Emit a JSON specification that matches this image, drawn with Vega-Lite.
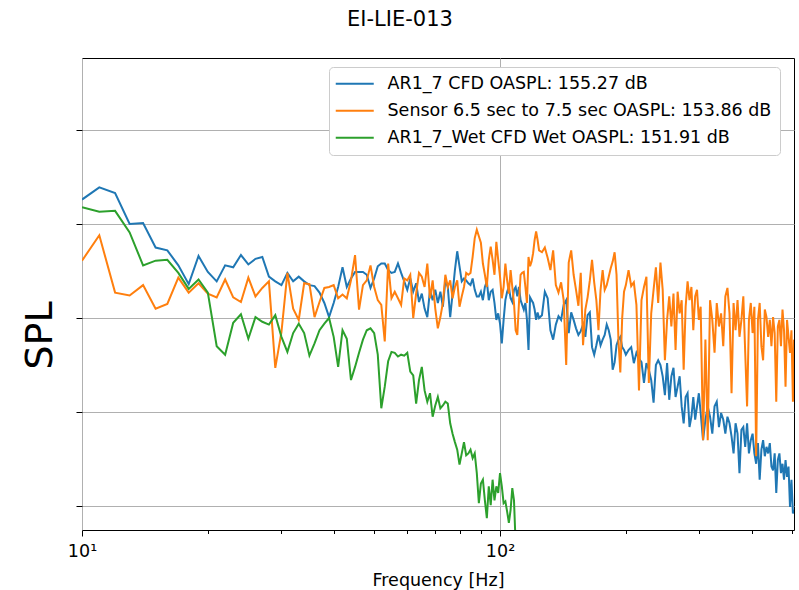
{
"$schema":"https://vega.github.io/schema/vega-lite/v6.json",
"width":712,"height":472,
"autosize":{"type":"none"},
"padding":{"left":82,"top":58,"right":5,"bottom":60},
"background":"#ffffff",
"config":{"view":{"stroke":"#000000","strokeWidth":1},"font":"DejaVu Sans"},
"title":{"text":"EI-LIE-013","font":"DejaVu Sans","fontSize":21,"fontWeight":"normal","color":"#000000","anchor":"middle","dx":-38,"offset":11,"baseline":"alphabetic"},
"data":{"values":[
{"s":"a","f":10,"v":132.6},{"s":"a","f":11,"v":133.9},{"s":"a","f":12,"v":133.3},{"s":"a","f":13,"v":130.0},{"s":"a","f":14,"v":130.1},{"s":"a","f":15,"v":127.5},{"s":"a","f":16,"v":127.2},{"s":"a","f":17,"v":125.6},{"s":"a","f":18,"v":123.6},{"s":"a","f":19,"v":126.6},{"s":"a","f":20,"v":124.9},{"s":"a","f":21,"v":123.9},{"s":"a","f":22,"v":125.6},{"s":"a","f":23,"v":125.4},{"s":"a","f":24,"v":126.7},{"s":"a","f":25,"v":125.7},{"s":"a","f":26,"v":126.3},{"s":"a","f":27,"v":126.5},{"s":"a","f":28,"v":124.4},{"s":"a","f":29,"v":123.9},{"s":"a","f":30,"v":123.5},{"s":"a","f":31,"v":124.8},{"s":"a","f":32,"v":123.9},{"s":"a","f":33,"v":124.4},{"s":"a","f":34,"v":123.9},{"s":"a","f":35,"v":123.5},{"s":"a","f":36,"v":123.4},{"s":"a","f":37,"v":122.7},{"s":"a","f":38,"v":121.6},{"s":"a","f":39,"v":120.1},{"s":"a","f":40,"v":121.6},{"s":"a","f":41,"v":123.3},{"s":"a","f":42,"v":125.4},{"s":"a","f":43,"v":123.3},{"s":"a","f":44,"v":124.2},{"s":"a","f":45,"v":124.9},{"s":"a","f":46,"v":124.9},{"s":"a","f":47,"v":124.9},{"s":"a","f":48,"v":124.6},{"s":"a","f":49,"v":123.2},{"s":"a","f":50,"v":124.2},{"s":"a","f":51,"v":125.5},{"s":"a","f":52,"v":125.8},{"s":"a","f":53,"v":125.8},{"s":"a","f":54,"v":125.1},{"s":"a","f":55,"v":124.8},{"s":"a","f":56,"v":124.9},{"s":"a","f":57,"v":125.8},{"s":"a","f":58,"v":124.8},{"s":"a","f":59,"v":123.9},{"s":"a","f":60,"v":123.0},{"s":"a","f":61,"v":124.2},{"s":"a","f":62,"v":122.8},{"s":"a","f":63,"v":123.7},{"s":"a","f":64,"v":121.7},{"s":"a","f":65,"v":122.6},{"s":"a","f":66,"v":121.0},{"s":"a","f":67,"v":120.1},{"s":"a","f":68,"v":123.0},{"s":"a","f":69,"v":121.9},{"s":"a","f":70,"v":123.0},{"s":"a","f":71,"v":121.6},{"s":"a","f":72,"v":122.8},{"s":"a","f":73,"v":121.2},{"s":"a","f":74,"v":124.0},{"s":"a","f":75,"v":123.3},{"s":"a","f":76,"v":120.1},{"s":"a","f":77,"v":122.6},{"s":"a","f":78,"v":125.1},{"s":"a","f":79,"v":127.1},{"s":"a","f":80,"v":125.5},{"s":"a","f":81,"v":123.9},{"s":"a","f":82,"v":124.2},{"s":"a","f":83,"v":124.0},{"s":"a","f":84,"v":123.7},{"s":"a","f":85,"v":123.5},{"s":"a","f":86,"v":124.2},{"s":"a","f":87,"v":123.0},{"s":"a","f":88,"v":122.3},{"s":"a","f":89,"v":122.3},{"s":"a","f":90,"v":122.8},{"s":"a","f":91,"v":121.9},{"s":"a","f":92,"v":123.3},{"s":"a","f":93,"v":123.9},{"s":"a","f":94,"v":121.9},{"s":"a","f":95,"v":122.8},{"s":"a","f":96,"v":123.0},{"s":"a","f":97,"v":121.6},{"s":"a","f":98,"v":119.8},{"s":"a","f":99,"v":120.5},{"s":"a","f":100,"v":119.4},{"s":"a","f":101,"v":117.3},{"s":"a","f":102,"v":119.8},{"s":"a","f":103,"v":121.9},{"s":"a","f":104,"v":122.8},{"s":"a","f":105,"v":123.3},{"s":"a","f":106,"v":122.1},{"s":"a","f":107,"v":121.7},{"s":"a","f":108,"v":123.0},{"s":"a","f":109,"v":123.3},{"s":"a","f":110,"v":122.3},{"s":"a","f":111,"v":123.3},{"s":"a","f":112,"v":121.9},{"s":"a","f":113,"v":121.4},{"s":"a","f":114,"v":120.9},{"s":"a","f":115,"v":121.6},{"s":"a","f":116,"v":119.8},{"s":"a","f":117,"v":116.6},{"s":"a","f":118,"v":122.2},{"s":"a","f":119,"v":121.9},{"s":"a","f":120,"v":121.6},{"s":"a","f":121,"v":120.9},{"s":"a","f":122,"v":119.8},{"s":"a","f":123,"v":120.6},{"s":"a","f":124,"v":120.0},
{"s":"a","f":126,"v":120.3},{"s":"a","f":128,"v":122.8},{"s":"a","f":130,"v":122.1},{"s":"a","f":132,"v":118.7},{"s":"a","f":134,"v":117.7},{"s":"a","f":136,"v":119.3},{"s":"a","f":138,"v":120.2},{"s":"a","f":140,"v":119.8},{"s":"a","f":142,"v":121.4},{"s":"a","f":144,"v":121.9},{"s":"a","f":146,"v":118.4},{"s":"a","f":148,"v":120.6},{"s":"a","f":150,"v":119.8},{"s":"a","f":152,"v":118.9},{"s":"a","f":154,"v":118.2},{"s":"a","f":156,"v":118.6},{"s":"a","f":158,"v":119.3},{"s":"a","f":160,"v":118.0},{"s":"a","f":162,"v":120.3},{"s":"a","f":164,"v":120.6},{"s":"a","f":166,"v":116.9},{"s":"a","f":168,"v":116.1},{"s":"a","f":170,"v":117.1},{"s":"a","f":172,"v":118.2},{"s":"a","f":174,"v":117.1},{"s":"a","f":176,"v":117.7},{"s":"a","f":178,"v":118.2},{"s":"a","f":180,"v":119.3},{"s":"a","f":182,"v":118.7},{"s":"a","f":184,"v":117.7},{"s":"a","f":186,"v":114.5},{"s":"a","f":188,"v":115.3},{"s":"a","f":190,"v":117.1},{"s":"a","f":192,"v":117.7},{"s":"a","f":194,"v":118.0},{"s":"a","f":196,"v":116.9},{"s":"a","f":198,"v":116.6},{"s":"a","f":200,"v":116.1},{"s":"a","f":203,"v":116.6},{"s":"a","f":206,"v":116.9},{"s":"a","f":209,"v":115.2},{"s":"a","f":212,"v":116.3},{"s":"a","f":215,"v":115.7},{"s":"a","f":218,"v":115.3},{"s":"a","f":221,"v":113.1},{"s":"a","f":224,"v":115.2},{"s":"a","f":227,"v":114.5},{"s":"a","f":230,"v":113.4},{"s":"a","f":233,"v":111.0},{"s":"a","f":236,"v":115.0},{"s":"a","f":239,"v":115.5},{"s":"a","f":242,"v":115.0},{"s":"a","f":245,"v":113.8},{"s":"a","f":248,"v":111.8},{"s":"a","f":251,"v":115.2},{"s":"a","f":254,"v":111.3},{"s":"a","f":257,"v":113.8},{"s":"a","f":260,"v":114.7},{"s":"a","f":263,"v":111.6},{"s":"a","f":266,"v":112.7},{"s":"a","f":269,"v":113.8},{"s":"a","f":272,"v":110.6},{"s":"a","f":275,"v":108.8},{"s":"a","f":278,"v":111.6},{"s":"a","f":281,"v":112.0},{"s":"a","f":284,"v":108.4},{"s":"a","f":287,"v":109.5},{"s":"a","f":290,"v":111.6},{"s":"a","f":293,"v":109.2},{"s":"a","f":296,"v":110.6},{"s":"a","f":299,"v":112.0},{"s":"a","f":302,"v":109.9},{"s":"a","f":306,"v":107.0},{"s":"a","f":310,"v":109.2},{"s":"a","f":314,"v":110.6},{"s":"a","f":318,"v":109.5},{"s":"a","f":322,"v":107.7},{"s":"a","f":326,"v":110.6},{"s":"a","f":330,"v":111.1},{"s":"a","f":334,"v":108.4},{"s":"a","f":338,"v":109.9},{"s":"a","f":342,"v":109.2},{"s":"a","f":346,"v":107.7},{"s":"a","f":350,"v":109.5},{"s":"a","f":354,"v":108.8},{"s":"a","f":358,"v":107.4},{"s":"a","f":362,"v":105.6},{"s":"a","f":366,"v":108.8},{"s":"a","f":370,"v":107.7},{"s":"a","f":374,"v":103.5},{"s":"a","f":378,"v":108.1},{"s":"a","f":382,"v":108.4},{"s":"a","f":386,"v":106.3},{"s":"a","f":390,"v":108.8},{"s":"a","f":394,"v":105.6},{"s":"a","f":398,"v":107.0},{"s":"a","f":402,"v":107.7},{"s":"a","f":406,"v":105.6},{"s":"a","f":410,"v":104.5},{"s":"a","f":414,"v":106.7},{"s":"a","f":418,"v":102.8},{"s":"a","f":422,"v":106.0},{"s":"a","f":426,"v":107.0},{"s":"a","f":430,"v":105.3},{"s":"a","f":434,"v":106.3},{"s":"a","f":438,"v":105.6},{"s":"a","f":442,"v":106.7},{"s":"a","f":446,"v":104.2},{"s":"a","f":450,"v":103.8},{"s":"a","f":454,"v":105.6},{"s":"a","f":458,"v":101.4},{"s":"a","f":462,"v":104.9},{"s":"a","f":466,"v":105.6},{"s":"a","f":470,"v":103.5},{"s":"a","f":474,"v":104.5},{"s":"a","f":478,"v":102.8},{"s":"a","f":482,"v":104.9},{"s":"a","f":486,"v":103.1},{"s":"a","f":490,"v":104.2},{"s":"a","f":494,"v":99.9},{"s":"a","f":498,"v":102.8},{"s":"a","f":502,"v":99.2},{"s":"a","f":505,"v":99.6},
{"s":"b","f":10,"v":126.1},{"s":"b","f":11,"v":128.8},{"s":"b","f":12,"v":122.7},{"s":"b","f":13,"v":122.4},{"s":"b","f":14,"v":123.5},{"s":"b","f":15,"v":121.0},{"s":"b","f":16,"v":121.5},{"s":"b","f":17,"v":124.3},{"s":"b","f":18,"v":122.7},{"s":"b","f":19,"v":123.7},{"s":"b","f":20,"v":122.6},{"s":"b","f":21,"v":122.2},{"s":"b","f":22,"v":124.1},{"s":"b","f":23,"v":122.2},{"s":"b","f":24,"v":121.7},{"s":"b","f":25,"v":124.3},{"s":"b","f":26,"v":122.3},{"s":"b","f":27,"v":123.2},{"s":"b","f":28,"v":123.9},{"s":"b","f":29,"v":114.7},{"s":"b","f":30,"v":118.5},{"s":"b","f":31,"v":124.8},{"s":"b","f":32,"v":121.0},{"s":"b","f":33,"v":119.8},{"s":"b","f":34,"v":123.7},{"s":"b","f":35,"v":123.6},{"s":"b","f":36,"v":120.1},{"s":"b","f":37,"v":121.7},{"s":"b","f":38,"v":123.2},{"s":"b","f":39,"v":123.3},{"s":"b","f":40,"v":123.5},{"s":"b","f":41,"v":122.1},{"s":"b","f":42,"v":122.5},{"s":"b","f":43,"v":122.1},{"s":"b","f":44,"v":124.0},{"s":"b","f":45,"v":126.7},{"s":"b","f":46,"v":120.9},{"s":"b","f":47,"v":123.5},{"s":"b","f":48,"v":124.0},{"s":"b","f":49,"v":125.6},{"s":"b","f":50,"v":123.3},{"s":"b","f":51,"v":121.9},{"s":"b","f":52,"v":121.4},{"s":"b","f":53,"v":117.5},{"s":"b","f":54,"v":125.8},{"s":"b","f":55,"v":122.1},{"s":"b","f":56,"v":122.8},{"s":"b","f":57,"v":122.1},{"s":"b","f":58,"v":121.4},{"s":"b","f":59,"v":124.2},{"s":"b","f":60,"v":124.0},{"s":"b","f":61,"v":124.6},{"s":"b","f":62,"v":120.0},{"s":"b","f":63,"v":122.6},{"s":"b","f":64,"v":124.8},{"s":"b","f":65,"v":124.4},{"s":"b","f":66,"v":123.3},{"s":"b","f":67,"v":125.8},{"s":"b","f":68,"v":122.1},{"s":"b","f":69,"v":124.0},{"s":"b","f":70,"v":121.0},{"s":"b","f":71,"v":118.9},{"s":"b","f":72,"v":120.1},{"s":"b","f":73,"v":121.6},{"s":"b","f":74,"v":124.6},{"s":"b","f":75,"v":123.3},{"s":"b","f":76,"v":124.0},{"s":"b","f":77,"v":122.1},{"s":"b","f":78,"v":123.3},{"s":"b","f":79,"v":124.0},{"s":"b","f":80,"v":121.2},{"s":"b","f":81,"v":122.3},{"s":"b","f":82,"v":123.3},{"s":"b","f":83,"v":124.8},{"s":"b","f":84,"v":124.6},{"s":"b","f":85,"v":124.8},{"s":"b","f":86,"v":126.5},{"s":"b","f":87,"v":128.5},{"s":"b","f":88,"v":129.4},{"s":"b","f":89,"v":128.7},{"s":"b","f":90,"v":128.0},{"s":"b","f":91,"v":125.8},{"s":"b","f":92,"v":124.6},{"s":"b","f":93,"v":123.3},{"s":"b","f":94,"v":126.2},{"s":"b","f":95,"v":127.6},{"s":"b","f":96,"v":126.2},{"s":"b","f":97,"v":124.6},{"s":"b","f":98,"v":128.1},{"s":"b","f":99,"v":126.2},{"s":"b","f":100,"v":124.4},{"s":"b","f":101,"v":122.1},{"s":"b","f":102,"v":123.3},{"s":"b","f":103,"v":125.8},{"s":"b","f":104,"v":124.0},{"s":"b","f":105,"v":122.6},{"s":"b","f":106,"v":125.1},{"s":"b","f":107,"v":123.3},{"s":"b","f":108,"v":121.6},{"s":"b","f":109,"v":118.7},{"s":"b","f":110,"v":118.2},{"s":"b","f":111,"v":121.6},{"s":"b","f":112,"v":124.6},{"s":"b","f":113,"v":124.8},{"s":"b","f":114,"v":124.9},{"s":"b","f":115,"v":123.3},{"s":"b","f":116,"v":121.6},{"s":"b","f":117,"v":126.5},{"s":"b","f":118,"v":125.5},{"s":"b","f":119,"v":126.0},{"s":"b","f":120,"v":126.9},{"s":"b","f":121,"v":128.3},{"s":"b","f":122,"v":129.2},{"s":"b","f":123,"v":128.3},{"s":"b","f":124,"v":127.2},
{"s":"b","f":126,"v":127.0},{"s":"b","f":128,"v":127.5},{"s":"b","f":130,"v":126.4},{"s":"b","f":132,"v":125.1},{"s":"b","f":134,"v":127.2},{"s":"b","f":136,"v":123.5},{"s":"b","f":138,"v":122.7},{"s":"b","f":140,"v":123.8},{"s":"b","f":142,"v":121.9},{"s":"b","f":144,"v":115.0},{"s":"b","f":146,"v":125.9},{"s":"b","f":148,"v":127.2},{"s":"b","f":150,"v":124.6},{"s":"b","f":152,"v":123.0},{"s":"b","f":154,"v":121.3},{"s":"b","f":156,"v":124.8},{"s":"b","f":158,"v":117.1},{"s":"b","f":160,"v":120.9},{"s":"b","f":162,"v":122.2},{"s":"b","f":164,"v":124.0},{"s":"b","f":166,"v":126.2},{"s":"b","f":168,"v":123.8},{"s":"b","f":170,"v":121.9},{"s":"b","f":172,"v":118.7},{"s":"b","f":174,"v":123.0},{"s":"b","f":176,"v":125.1},{"s":"b","f":178,"v":123.0},{"s":"b","f":180,"v":123.5},{"s":"b","f":182,"v":124.4},{"s":"b","f":184,"v":125.3},{"s":"b","f":186,"v":126.0},{"s":"b","f":188,"v":127.0},{"s":"b","f":190,"v":124.6},{"s":"b","f":192,"v":117.7},{"s":"b","f":194,"v":114.2},{"s":"b","f":196,"v":120.0},{"s":"b","f":198,"v":122.8},{"s":"b","f":200,"v":123.5},{"s":"b","f":203,"v":125.1},{"s":"b","f":206,"v":123.4},{"s":"b","f":209,"v":123.8},{"s":"b","f":212,"v":121.4},{"s":"b","f":215,"v":112.3},{"s":"b","f":218,"v":121.9},{"s":"b","f":221,"v":123.3},{"s":"b","f":224,"v":124.4},{"s":"b","f":227,"v":113.1},{"s":"b","f":230,"v":120.5},{"s":"b","f":233,"v":123.0},{"s":"b","f":236,"v":125.4},{"s":"b","f":239,"v":121.6},{"s":"b","f":242,"v":125.9},{"s":"b","f":245,"v":123.0},{"s":"b","f":248,"v":115.5},{"s":"b","f":251,"v":119.8},{"s":"b","f":254,"v":122.3},{"s":"b","f":257,"v":119.1},{"s":"b","f":260,"v":122.6},{"s":"b","f":263,"v":116.6},{"s":"b","f":266,"v":122.8},{"s":"b","f":269,"v":120.5},{"s":"b","f":272,"v":121.9},{"s":"b","f":275,"v":114.5},{"s":"b","f":278,"v":121.2},{"s":"b","f":281,"v":123.9},{"s":"b","f":284,"v":121.9},{"s":"b","f":287,"v":123.3},{"s":"b","f":290,"v":118.7},{"s":"b","f":293,"v":122.3},{"s":"b","f":296,"v":123.0},{"s":"b","f":299,"v":119.8},{"s":"b","f":302,"v":121.2},{"s":"b","f":306,"v":107.0},{"s":"b","f":310,"v":117.7},{"s":"b","f":314,"v":107.0},{"s":"b","f":318,"v":121.9},{"s":"b","f":322,"v":119.8},{"s":"b","f":326,"v":116.3},{"s":"b","f":330,"v":121.6},{"s":"b","f":334,"v":119.1},{"s":"b","f":338,"v":120.5},{"s":"b","f":342,"v":117.0},{"s":"b","f":346,"v":122.3},{"s":"b","f":350,"v":123.2},{"s":"b","f":354,"v":120.5},{"s":"b","f":358,"v":112.0},{"s":"b","f":362,"v":121.6},{"s":"b","f":366,"v":118.7},{"s":"b","f":370,"v":121.9},{"s":"b","f":374,"v":118.0},{"s":"b","f":378,"v":119.8},{"s":"b","f":382,"v":122.3},{"s":"b","f":386,"v":116.3},{"s":"b","f":390,"v":110.6},{"s":"b","f":394,"v":119.8},{"s":"b","f":398,"v":121.6},{"s":"b","f":402,"v":118.4},{"s":"b","f":406,"v":121.2},{"s":"b","f":410,"v":105.3},{"s":"b","f":414,"v":119.8},{"s":"b","f":418,"v":121.6},{"s":"b","f":422,"v":117.0},{"s":"b","f":426,"v":115.5},{"s":"b","f":430,"v":120.9},{"s":"b","f":434,"v":120.1},{"s":"b","f":438,"v":118.0},{"s":"b","f":442,"v":119.8},{"s":"b","f":446,"v":117.0},{"s":"b","f":450,"v":120.1},{"s":"b","f":454,"v":118.4},{"s":"b","f":458,"v":111.1},{"s":"b","f":462,"v":119.1},{"s":"b","f":466,"v":119.8},{"s":"b","f":470,"v":117.0},{"s":"b","f":474,"v":120.9},{"s":"b","f":478,"v":118.7},{"s":"b","f":482,"v":112.7},{"s":"b","f":486,"v":119.8},{"s":"b","f":490,"v":118.0},{"s":"b","f":494,"v":116.3},{"s":"b","f":498,"v":118.7},{"s":"b","f":502,"v":111.1},{"s":"b","f":505,"v":117.7},
{"s":"c","f":10,"v":131.8},{"s":"c","f":11,"v":131.3},{"s":"c","f":12,"v":131.4},{"s":"c","f":13,"v":129.1},{"s":"c","f":14,"v":125.6},{"s":"c","f":15,"v":126.1},{"s":"c","f":16,"v":126.2},{"s":"c","f":17,"v":124.8},{"s":"c","f":18,"v":123.1},{"s":"c","f":19,"v":124.1},{"s":"c","f":20,"v":122.7},{"s":"c","f":21,"v":117.0},{"s":"c","f":22,"v":116.1},{"s":"c","f":23,"v":119.5},{"s":"c","f":24,"v":120.4},{"s":"c","f":25,"v":117.8},{"s":"c","f":26,"v":120.1},{"s":"c","f":27,"v":119.6},{"s":"c","f":28,"v":119.3},{"s":"c","f":29,"v":120.3},{"s":"c","f":30,"v":118.0},{"s":"c","f":31,"v":116.4},{"s":"c","f":32,"v":118.4},{"s":"c","f":33,"v":119.4},{"s":"c","f":34,"v":118.4},{"s":"c","f":35,"v":116.0},{"s":"c","f":36,"v":117.3},{"s":"c","f":37,"v":118.7},{"s":"c","f":38,"v":119.4},{"s":"c","f":39,"v":120.0},{"s":"c","f":40,"v":118.0},{"s":"c","f":41,"v":114.8},{"s":"c","f":42,"v":118.7},{"s":"c","f":43,"v":117.8},{"s":"c","f":44,"v":113.4},{"s":"c","f":45,"v":114.8},{"s":"c","f":46,"v":116.3},{"s":"c","f":47,"v":117.7},{"s":"c","f":48,"v":118.7},{"s":"c","f":49,"v":118.9},{"s":"c","f":50,"v":118.4},{"s":"c","f":51,"v":116.1},{"s":"c","f":52,"v":110.4},{"s":"c","f":53,"v":112.7},{"s":"c","f":54,"v":115.4},{"s":"c","f":55,"v":116.4},{"s":"c","f":56,"v":116.3},{"s":"c","f":57,"v":115.9},{"s":"c","f":58,"v":116.1},{"s":"c","f":59,"v":116.0},{"s":"c","f":60,"v":116.3},{"s":"c","f":61,"v":114.3},{"s":"c","f":62,"v":113.9},{"s":"c","f":63,"v":110.9},{"s":"c","f":64,"v":113.4},{"s":"c","f":65,"v":114.8},{"s":"c","f":66,"v":112.3},{"s":"c","f":67,"v":111.1},{"s":"c","f":68,"v":112.0},{"s":"c","f":69,"v":109.5},{"s":"c","f":70,"v":110.7},{"s":"c","f":71,"v":111.6},{"s":"c","f":72,"v":110.4},{"s":"c","f":73,"v":110.7},{"s":"c","f":74,"v":111.1},{"s":"c","f":75,"v":110.9},{"s":"c","f":76,"v":108.8},{"s":"c","f":77,"v":107.7},{"s":"c","f":78,"v":106.8},{"s":"c","f":79,"v":106.0},{"s":"c","f":80,"v":104.4},{"s":"c","f":81,"v":105.6},{"s":"c","f":82,"v":106.8},{"s":"c","f":83,"v":105.4},{"s":"c","f":84,"v":105.6},{"s":"c","f":85,"v":106.0},{"s":"c","f":86,"v":105.1},{"s":"c","f":87,"v":105.6},{"s":"c","f":88,"v":103.5},{"s":"c","f":89,"v":100.3},{"s":"c","f":90,"v":102.4},{"s":"c","f":91,"v":102.8},{"s":"c","f":92,"v":100.6},{"s":"c","f":93,"v":98.7},{"s":"c","f":94,"v":102.1},{"s":"c","f":95,"v":100.1},{"s":"c","f":96,"v":102.8},{"s":"c","f":97,"v":100.6},{"s":"c","f":98,"v":102.1},{"s":"c","f":99,"v":101.4},{"s":"c","f":100,"v":103.5},{"s":"c","f":101,"v":102.1},{"s":"c","f":102,"v":100.3},{"s":"c","f":103,"v":100.5},{"s":"c","f":104,"v":99.4},{"s":"c","f":105,"v":98.2},{"s":"c","f":106,"v":99.6},{"s":"c","f":107,"v":101.9},{"s":"c","f":108,"v":100.6},{"s":"c","f":109,"v":95.9},{"s":"c","f":110,"v":93.7}
]},
"resolve":{"axis":{"x":"independent"}},
"layer":[
{"mark":{"type":"line","strokeWidth":2,"clip":true},
"encoding":{
"x":{"field":"f","type":"quantitative","scale":{"type":"log","domain":[10,505],"nice":false},
"axis":{"orient":"bottom","title":"Frequency [Hz]","titleFont":"DejaVu Sans","titleFontSize":17.5,"titleFontWeight":"normal","titleColor":"#000000","titlePadding":12,
"values":[10,100],
"labelExpr":"datum.value == 10 ? '10¹' : '10²'",
"labelFont":"DejaVu Sans","labelFontSize":17.5,"labelColor":"#000000","labelFlush":false,"labelOverlap":false,"labelPadding":6,
"tickColor":"#000000","tickWidth":1,"tickSize":6,
"grid":true,"gridColor":"#b0b0b0","gridWidth":1,"domain":false}},
"y":{"field":"v","type":"quantitative","scale":{"domain":[97.45,147.66],"nice":false,"zero":false},
"axis":{"title":"SPL","titleFont":"DejaVu Sans","titleFontSize":38,"titleFontWeight":"normal","titleColor":"#000000","titleAngle":270,"titleAlign":"center","titleBaseline":"middle","titleX":-42,"titleY":277,
"values":[100,110,120,130,140],"labels":false,"tickSize":6,"tickColor":"#000000","tickWidth":1,"grid":true,"gridColor":"#b0b0b0","gridWidth":1,"domain":false}},
"color":{"field":"s","type":"nominal","scale":{"domain":["a","b","c"],"range":["#1f77b4","#ff7f0e","#2ca02c"]},
"legend":{"title":null,"orient":"none","legendX":247,"legendY":9,"direction":"vertical","fillColor":"#ffffff","strokeColor":"#cccccc","cornerRadius":4,"padding":8,
"symbolType":"M-2,0H5.6","symbolSize":100,"symbolStrokeWidth":2,
"labelFont":"DejaVu Sans","labelFontSize":17.5,"labelColor":"#000000","labelLimit":600,"labelOffset":33,"rowPadding":8,
"labelExpr":"datum.label == 'a' ? 'AR1_7 CFD OASPL: 155.27 dB' : (datum.label == 'b' ? 'Sensor 6.5 sec to 7.5 sec OASPL: 153.86 dB' : 'AR1_7_Wet CFD Wet OASPL: 151.91 dB')"}}
}},
{"mark":{"type":"line","strokeOpacity":0,"clip":true},
"encoding":{
"x":{"field":"f","type":"quantitative","scale":{"type":"log","domain":[10,505],"nice":false},
"axis":{"orient":"bottom","title":null,"values":[20,30,40,50,60,70,80,90,200,300,400,500],"labels":false,"tickSize":3.5,"tickColor":"#000000","tickWidth":1,"grid":false,"domain":false}},
"y":{"field":"v","type":"quantitative"},
"detail":{"field":"s","type":"nominal"}
}}
]
}
